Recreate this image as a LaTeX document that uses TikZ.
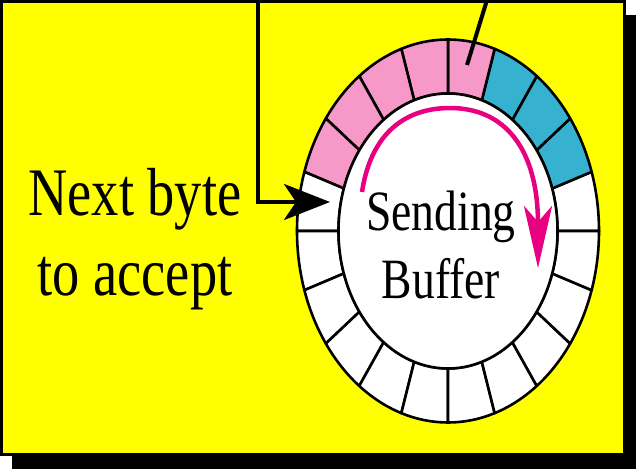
\documentclass[tikz,border=0pt]{standalone}
\usepackage{fontspec}
\setmainfont{Liberation Serif}[FakeStretch=0.8]
\usetikzlibrary{arrows.meta}
\definecolor{bgyellow}{RGB}{255,255,0}
\definecolor{segpink}{RGB}{246,153,201}
\definecolor{segblue}{RGB}{54,178,208}
\definecolor{arrmag}{RGB}{232,0,128}
\begin{document}
\begin{tikzpicture}[x=1pt,y=1pt,
  segline/.style={draw=black,line width=2.6pt,line join=round},
  ptr/.style={draw=black,line width=4pt},
  lbl/.style={align=center,inner sep=0pt,text=black}]
\useasboundingbox (0,0) rectangle (636,469);
% shadow and panel
\fill[black] (12,0) rectangle (636,454);
\filldraw[fill=bgyellow,draw=black,line width=3pt] (1.5,15) rectangle (624,467.5);
% ring
\coordinate (c) at (448,238);
\foreach \i/\fc in {0/white,1/segblue,2/segblue,3/segblue,4/segpink,5/segpink,6/segpink,7/segpink,8/segpink,9/white,10/white,11/white,12/white,13/white,14/white,15/white,16/white,17/white,18/white,19/white}{
  \pgfmathsetmacro\s{18*\i}
  \pgfmathsetmacro\e{18*\i+18}
  \filldraw[segline,fill=\fc] ({448+151*cos(\s)},{238+191.5*sin(\s)})
    arc[start angle=\s,end angle=\e,x radius=151,y radius=191.5]
    -- ({448+109.5*cos(\e)},{238+137.5*sin(\e)})
    arc[start angle=\e,end angle=\s,x radius=109.5,y radius=137.5] -- cycle;
}
\filldraw[segline,fill=white] (c) ellipse[x radius=109.5,y radius=137.5];
% magenta arrow
\coordinate (m0) at (362,277);
\coordinate (m1) at (450,361);
\coordinate (m2) at (538,201);
\draw[line width=4.5pt,arrmag,-{Stealth[length=62pt,width=28pt,inset=16pt]}]
  (m0) .. controls (370,330) and (400,361) .. (m1) .. controls (505,361) and (538,320) .. (m2);
% texts
\node[lbl,font=\fontsize{68}{80}\selectfont,anchor=base] (nbt) at (135,174) {Next byte\\to accept};
\node[lbl,font=\fontsize{57}{68}\selectfont,anchor=base] (sb) at (441,171) {Sending\\Buffer};
% black pointers
\coordinate (top1) at (258,469);
\coordinate (nbtip) at (330,267);
\draw[ptr,-{Stealth[length=46pt,width=36pt,inset=12pt]}] (top1) |- (nbtip);
\coordinate (top2) at (487,469);
\coordinate (ptrend) at (467,404);
\draw[ptr] (top2) -- (ptrend);
\end{tikzpicture}
\end{document}
